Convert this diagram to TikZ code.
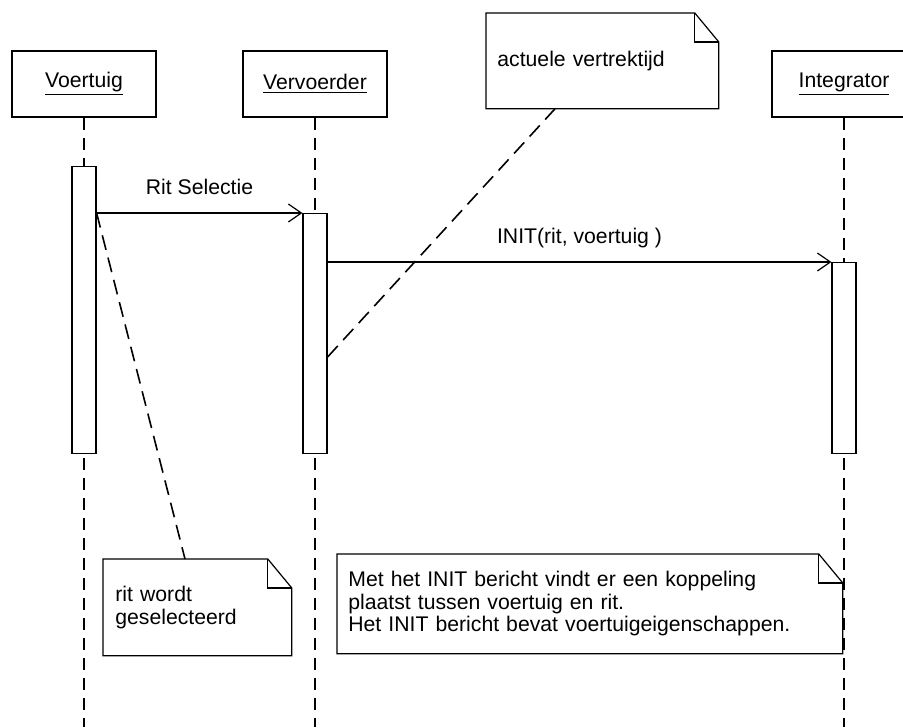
\documentclass[tikz,border=0pt]{standalone}
\usepackage{fontspec}
\setmainfont{Liberation Sans}
\usetikzlibrary{arrows.meta,calc}

\newcommand{\dogear}[1]{%
  \draw[line width=0.6pt] (#1.north west) -- ($(#1.north east)+(-12pt,0)$) -- ($(#1.north east)+(0,-14.5pt)$) -- (#1.south east) -- (#1.south west) -- cycle;
  \draw[line width=0.6pt] ($(#1.north east)+(-12pt,0)$) |- ($(#1.north east)+(0,-14.5pt)$);}

\begin{document}
\begin{tikzpicture}[x=0.5pt, y=-0.5pt, font=\fontsize{10.6}{11.3}\selectfont,
  objbox/.style={draw, line width=0.6pt, minimum width=72pt, minimum height=33pt, inner sep=0pt},
  actbar/.style={draw, fill=white, line width=0.6pt, minimum width=12pt, inner sep=0pt, anchor=north},
  lifeline/.style={line width=0.6pt, dash pattern=on 6pt off 4pt},
  msg/.style={line width=0.6pt, -{Straight Barb[length=6.5pt, width=9pt]}},
  msglabel/.style={midway, anchor=base, yshift=9.5pt, inner sep=0pt},
  notetext/.style={anchor=north west, align=left, inner ysep=0pt},
  notelink/.style={line width=0.8pt, dash pattern=on 7.5pt off 4pt}]
  \clip (0,0) rectangle (903,727);

  \node[objbox] (voer) at (84,84) {\underline{Voertuig}};
  \node[objbox] (verv) at (315,84) {\underline{Vervoerder}};
  \node[objbox] (integ) at (844,84) {\underline{Integrator}};

  \coordinate (voerEnd) at (84,727);
  \coordinate (vervEnd) at (315,727);
  \coordinate (integEnd) at (844,727);
  \draw[lifeline] (voer) -- (voerEnd);
  \draw[lifeline] (verv) -- (vervEnd);
  \draw[lifeline] (integ) -- (integEnd);

  \node[actbar, minimum height=143.5pt] (voerAct) at (84,166) {};
  \node[actbar, minimum height=120pt] (vervAct) at (315,213) {};
  \node[actbar, minimum height=95.5pt] (integAct) at (844,262) {};

  \draw[msg] (voerAct.east |- vervAct.north) -- (vervAct.north west) node[msglabel] {Rit Selectie};
  \draw[msg] (vervAct.east |- integAct.north) -- (integAct.north west) node[msglabel] {INIT(rit, voertuig )};

  \node[notetext, inner xsep=5.5pt, text width=105pt, minimum height=47.5pt] (noteTijd) at (486,13) {actuele vertrektijd};
  \node[notetext, inner xsep=6pt, text width=82pt, minimum height=48pt] (noteRit) at (103,559) {rit wordt\\geselecteerd};
  \node[notetext, inner xsep=5.5pt, text width=241.5pt, minimum height=49.5pt] (noteInit) at (337,554) {Met het INIT bericht vindt er een koppeling\\plaatst tussen voertuig en rit.\\Het INIT bericht bevat voertuigeigenschappen.};
  \dogear{noteTijd}
  \dogear{noteRit}
  \dogear{noteInit}

  \coordinate (tijdFoot) at ($(noteTijd.south west)+(34.5pt,0)$);
  \coordinate (ritFoot) at ($(noteRit.north west)+(41pt,0)$);
  \draw[notelink] (voerAct.east |- vervAct.north) -- (ritFoot);
  \draw[notelink] ($(vervAct.north east)+(0,-72pt)$) -- (tijdFoot);
\end{tikzpicture}
\end{document}
